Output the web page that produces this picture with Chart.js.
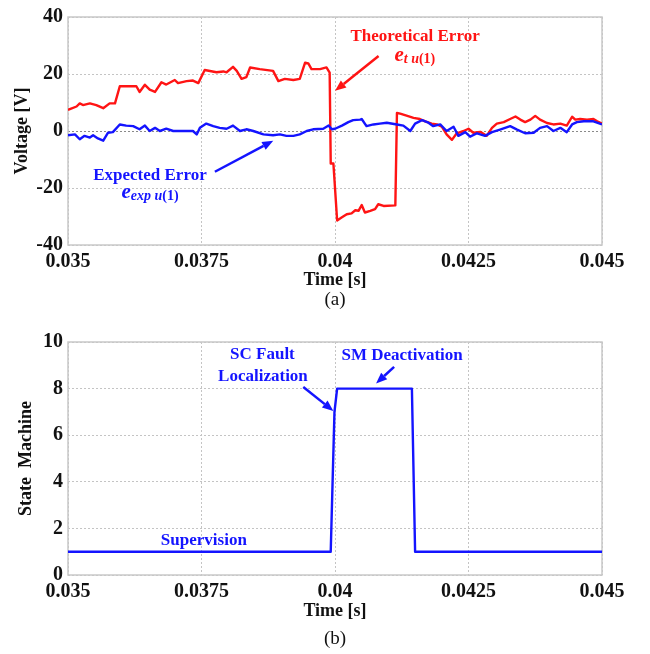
<!DOCTYPE html>
<html><head><meta charset="utf-8">
<script src="https://cdn.jsdelivr.net/npm/chart.js@4.4.1/dist/chart.umd.min.js"></script>
<style>
html,body{margin:0;padding:0;background:#fff;}
#wrap{position:relative;width:650px;height:654px;overflow:hidden;background:#fff;}
canvas{position:absolute;left:0;}
</style></head><body>
<div id="wrap">
<canvas id="ca" width="650" height="320" style="top:0;width:650px;height:320px"></canvas>
<canvas id="cb" width="650" height="334" style="top:320px;width:650px;height:334px"></canvas>
</div>
<script>
// ---------------- data ----------------
const xTickValues = [0.035, 0.0375, 0.04, 0.0425, 0.045];
const xTickLabels = ['0.035', '0.0375', '0.04', '0.0425', '0.045'];
const voltTicks = [-40, -20, 0, 20, 40];
const stateTicks = [0, 2, 4, 6, 8, 10];

// Theoretical error e_t u(1) (red)
const theoT = [0.03500,0.03516,0.03522,0.03528,0.03541,0.03553,0.03566,0.03578,0.03588,0.03597,
  0.03628,0.03634,0.03644,0.03653,0.03663,0.03675,0.03684,0.03700,0.03706,0.03722,
  0.03734,0.03744,0.03756,0.03778,0.03791,0.03797,0.03809,0.03816,0.03825,0.03834,
  0.03841,0.03859,0.03884,0.03894,0.03906,0.03922,0.03934,0.03944,0.03950,0.03956,
  0.03972,0.03984,0.03988,0.03990,0.03992,0.03997,0.04004,0.04013,0.04022,0.04031,
  0.04038,0.04044,0.04050,0.04056,0.04066,0.04075,0.04081,0.04091,0.04113,0.04116,
  0.04122,0.04134,0.04147,0.04159,0.04169,0.04181,0.04191,0.04200,0.04209,0.04219,
  0.04228,0.04241,0.04250,0.04259,0.04272,0.04284,0.04294,0.04303,0.04316,0.04328,
  0.04338,0.04347,0.04356,0.04366,0.04375,0.04384,0.04397,0.04409,0.04422,0.04434,
  0.04444,0.04450,0.04459,0.04472,0.04484,0.04491,0.04500];
const theoV = [7.4,8.6,9.7,9.1,9.7,9.1,8.0,9.7,9.7,15.7,
  15.7,13.7,16.2,14.5,13.7,17.1,16.3,17.9,16.8,17.5,
  17.7,16.8,21.4,20.6,20.9,20.6,22.5,21.1,18.3,18.9,
  22.3,21.7,21.1,17.5,18.3,17.9,18.3,24.0,23.7,21.7,
  21.7,22.3,21.1,20.5,-11.4,-11.4,-31.4,-30.3,-29.2,-28.9,
  -27.8,-28.0,-26.0,-28.6,-28.0,-27.4,-25.7,-26.3,-26.1,6.3,
  6.1,5.4,4.6,4.2,3.4,2.6,2.3,1.5,-1.2,-3.1,
  -0.8,0.0,0.8,-0.6,-0.3,-1.7,1.1,2.6,3.1,4.2,
  5.1,4.0,3.1,4.0,5.3,4.0,2.8,2.3,2.6,1.9,
  5.0,4.0,4.2,4.0,4.2,3.4,2.6];

// Expected error e_exp u(1) (blue)
const expT = [0.03500,0.03513,0.03522,0.03531,0.03541,0.03547,0.03556,0.03566,0.03575,0.03584,
  0.03597,0.03609,0.03622,0.03634,0.03644,0.03653,0.03663,0.03672,0.03684,0.03697,
  0.03709,0.03734,0.03741,0.03747,0.03759,0.03772,0.03784,0.03797,0.03809,0.03822,
  0.03834,0.03847,0.03866,0.03884,0.03897,0.03909,0.03922,0.03934,0.03947,0.03959,
  0.03978,0.03988,0.03994,0.04000,0.04013,0.04025,0.04034,0.04047,0.04050,0.04059,
  0.04072,0.04084,0.04097,0.04116,0.04128,0.04141,0.04150,0.04163,0.04175,0.04184,
  0.04197,0.04209,0.04222,0.04231,0.04244,0.04253,0.04266,0.04281,0.04294,0.04309,
  0.04328,0.04341,0.04356,0.04372,0.04384,0.04397,0.04409,0.04422,0.04434,0.04444,
  0.04453,0.04466,0.04484,0.04500];
const expV = [-1.5,-1.2,-2.9,-1.7,-2.3,-1.5,-2.6,-3.4,-0.6,-0.4,
  2.3,1.9,1.7,0.6,1.9,0.0,1.1,0.0,0.8,0.0,
  0.0,0.0,-1.2,1.1,2.6,1.7,1.1,0.8,1.9,0.0,
  0.6,0.0,-1.2,-1.5,-1.2,-1.7,-1.7,-1.2,0.0,0.6,
  0.8,1.9,0.6,0.8,1.9,3.1,3.8,4.0,4.2,1.7,
  2.3,2.6,2.9,2.3,1.9,0.0,2.6,3.8,2.9,1.7,
  2.3,0.0,1.5,-1.7,-0.4,-2.0,-0.8,-1.7,-0.4,0.5,
  1.7,0.5,-0.8,-0.6,1.1,1.7,0.0,1.1,-0.4,2.3,
  3.1,3.4,3.4,2.3];

// State machine (b)
const stateT = [0.03500, 0.03992, 0.03999, 0.04004, 0.04144, 0.04150, 0.04500];
const stateV = [1, 1, 7, 8, 8, 1, 1];

// ---------------- styling ----------------
const SERIF = "'Liberation Serif','Times New Roman',Times,serif";
const RED = '#ff1414';
const BLUE = '#1414ff';
const pts = (t, v) => t.map((x, i) => ({x: x, y: v[i]}));

const notesPlugin = {
  id: 'notes',
  afterDraw(chart, args, opts) {
    const ctx = chart.ctx;
    const xs = chart.scales.x, ys = chart.scales.y;
    const X = t => xs.getPixelForValue(t), Y = v => ys.getPixelForValue(v);
    ctx.save();
    for (const it of (opts.items || [])) {
      if (it.type === 'text') {
        ctx.font = it.font; ctx.fillStyle = it.color;
        ctx.textAlign = 'center'; ctx.textBaseline = 'middle';
        ctx.fillText(it.text, X(it.t), Y(it.v));
      } else if (it.type === 'rich') {
        let x = X(it.t); const y = Y(it.v);
        ctx.textAlign = 'left'; ctx.textBaseline = 'alphabetic'; ctx.fillStyle = it.color;
        for (const s of it.segs) {
          ctx.font = s.font;
          ctx.fillText(s.text, x, y + (s.dy || 0));
          x += ctx.measureText(s.text).width;
        }
      } else if (it.type === 'arrow') {
        const x1 = X(it.t1), y1 = Y(it.v1), x2 = X(it.t2), y2 = Y(it.v2);
        const a = Math.atan2(y2 - y1, x2 - x1);
        const L = 11, W = 4.5;
        const bx = x2 - L * Math.cos(a), by = y2 - L * Math.sin(a);
        ctx.strokeStyle = it.color; ctx.fillStyle = it.color; ctx.lineWidth = 2.5;
        ctx.beginPath(); ctx.moveTo(x1, y1); ctx.lineTo(bx, by); ctx.stroke();
        ctx.beginPath();
        ctx.moveTo(x2, y2);
        ctx.lineTo(bx + W * Math.sin(a), by - W * Math.cos(a));
        ctx.lineTo(bx - W * Math.sin(a), by + W * Math.cos(a));
        ctx.closePath(); ctx.fill();
      }
    }
    if (opts.caption) {
      const ca = chart.chartArea;
      ctx.font = '19px ' + SERIF; ctx.fillStyle = '#111';
      ctx.textAlign = 'center'; ctx.textBaseline = 'middle';
      ctx.fillText(opts.caption, (ca.left + ca.right) / 2, opts.captionY);
    }
    ctx.restore();
  },
  beforeDatasetsDraw(chart) {
    const ca = chart.chartArea, ctx = chart.ctx;
    ctx.save();
    ctx.strokeStyle = '#c8c8c8'; ctx.lineWidth = 1.5;
    ctx.strokeRect(ca.left, ca.top, ca.right - ca.left, ca.bottom - ca.top);
    ctx.restore();
  }
};

function xAxis(h, titlePad) {
  return {
    type: 'linear', min: 0.035, max: 0.045,
    afterBuildTicks: s => { s.ticks = xTickValues.map(v => ({value: v})); },
    afterFit: s => { s.height = h; },
    ticks: {
      font: {family: SERIF, size: 20, weight: 'bold'}, color: '#111', padding: 5, maxRotation: 0,
      callback: (v, i) => xTickLabels[i]
    },
    grid: {color: '#c4c4c4', lineWidth: 1, drawTicks: false},
    border: {display: false, dash: [2, 2]},
    title: {display: true, text: 'Time [s]', color: '#111',
      font: {family: SERIF, size: 18, weight: 'bold'}, padding: {top: 0, bottom: titlePad}}
  };
}
function yAxis(min, max, ticks, title, titlePad) {
  return {
    type: 'linear', min: min, max: max,
    afterBuildTicks: s => { s.ticks = ticks.map(v => ({value: v})); },
    afterFit: s => { s.width = 68; },
    ticks: {font: {family: SERIF, size: 20, weight: 'bold'}, color: '#111', padding: 5},
    grid: {color: c => (c.tick && c.tick.value === 0 && min < 0) ? '#8a8a8a' : '#c4c4c4', lineWidth: 1, drawTicks: false},
    border: {display: false, dash: [2, 2]},
    title: {display: true, text: title, color: '#111',
      font: {family: SERIF, size: 18, weight: 'bold'}, padding: {top: titlePad, bottom: 0}}
  };
}
const common = {
  responsive: false, animation: false, devicePixelRatio: 1,
  elements: {point: {radius: 0}, line: {tension: 0, borderWidth: 2.4, borderJoinStyle: 'round'}},
  plugins: {legend: {display: false}, tooltip: {enabled: false}}
};

// ---------------- chart (a) ----------------
new Chart(document.getElementById('ca'), {
  type: 'line',
  data: {datasets: [
    {label: 'Expected Error', data: pts(expT, expV), borderColor: BLUE, fill: false},
    {label: 'Theoretical Error', data: pts(theoT, theoV), borderColor: RED, fill: false}
  ]},
  options: Object.assign({}, common, {
    layout: {padding: {top: 12, right: 48, bottom: 0, left: 0}},
    scales: {x: xAxis(75, 28.5), y: yAxis(-40, 40, voltTicks, 'Voltage [V]', 12)},
    plugins: Object.assign({}, common.plugins, {
      notes: {
        caption: '(a)', captionY: 300,
        items: [
          {type: 'text', text: 'Theoretical Error', t: 0.0415, v: 33.1, color: RED, font: 'bold 17px ' + SERIF},
          {type: 'rich', t: 0.041113, v: 24.4, color: RED, segs: [
            {text: 'e', font: 'italic bold 21px ' + SERIF},
            {text: 't u', font: 'italic bold 14px ' + SERIF, dy: 2},
            {text: '(1)', font: 'bold 14px ' + SERIF, dy: 2}]},
          {type: 'arrow', t1: 0.040816, v1: 26.3, t2: 0.040001, v2: 14.1, color: RED},
          {type: 'text', text: 'Expected Error', t: 0.036535, v: -15.7, color: BLUE, font: 'bold 17px ' + SERIF},
          {type: 'rich', t: 0.036001, v: -23.5, color: BLUE, segs: [
            {text: 'e', font: 'italic bold 21px ' + SERIF},
            {text: 'exp u', font: 'italic bold 14px ' + SERIF, dy: 2},
            {text: '(1)', font: 'bold 14px ' + SERIF, dy: 2}]},
          {type: 'arrow', t1: 0.037751, v1: -14.3, t2: 0.038844, v2: -3.4, color: BLUE}
        ]
      }
    })
  }),
  plugins: [notesPlugin]
});

// ---------------- chart (b) ----------------
new Chart(document.getElementById('cb'), {
  type: 'line',
  data: {datasets: [
    {label: 'State Machine', data: pts(stateT, stateV), borderColor: BLUE, fill: false}
  ]},
  options: Object.assign({}, common, {
    layout: {padding: {top: 22, right: 48, bottom: 0, left: 0}},
    scales: {x: xAxis(79, 31.5), y: yAxis(0, 10, stateTicks, 'State  Machine', 16)},
    plugins: Object.assign({}, common.plugins, {
      notes: {
        caption: '(b)', captionY: 319,
        items: [
          {type: 'text', text: 'SC Fault', t: 0.038641, v: 9.46, color: BLUE, font: 'bold 17px ' + SERIF},
          {type: 'text', text: 'Localization', t: 0.038651, v: 8.53, color: BLUE, font: 'bold 17px ' + SERIF},
          {type: 'arrow', t1: 0.039406, v1: 8.07, t2: 0.039969, v2: 7.04, color: BLUE},
          {type: 'text', text: 'SM Deactivation', t: 0.041257, v: 9.43, color: BLUE, font: 'bold 17px ' + SERIF},
          {type: 'arrow', t1: 0.041107, v1: 8.93, t2: 0.040769, v2: 8.22, color: BLUE},
          {type: 'text', text: 'Supervision', t: 0.037544, v: 1.47, color: BLUE, font: 'bold 17px ' + SERIF}
        ]
      }
    })
  }),
  plugins: [notesPlugin]
});
</script>
</body></html>
